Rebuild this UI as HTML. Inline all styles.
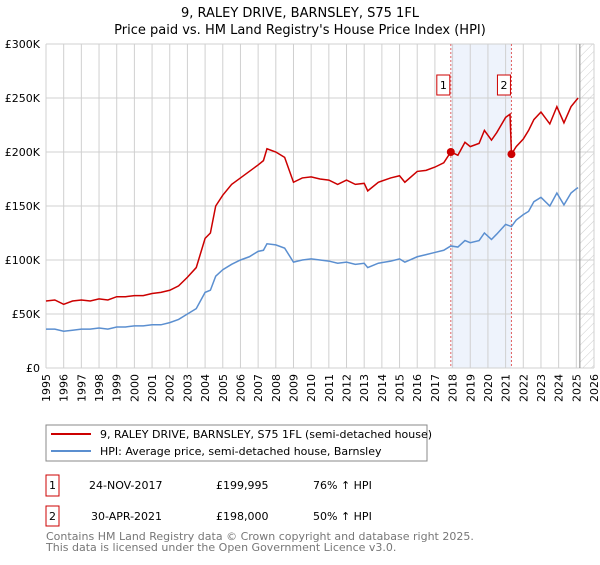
<!DOCTYPE html>
<html><head><meta charset="utf-8"><style>
body{margin:0;width:600px;height:560px;background:#fff;font-family:"Liberation Sans","DejaVu Sans",sans-serif;overflow:hidden}
svg text{font-family:"DejaVu Sans","Liberation Sans",sans-serif}
</style></head><body>
<svg id="chart" width="600" height="560">
<text x="300" y="17" text-anchor="middle" font-size="13">9, RALEY DRIVE, BARNSLEY, S75 1FL</text>
<text x="300" y="34" text-anchor="middle" font-size="13">Price paid vs. HM Land Registry's House Price Index (HPI)</text>
<g id="plot"></g>
<g>
<rect x="46" y="425" width="381" height="36" fill="#fff" stroke="#888"/>
<line x1="51" y1="434" x2="91" y2="434" stroke="#cc0000" stroke-width="2"/>
<text x="100" y="438" font-size="11">9, RALEY DRIVE, BARNSLEY, S75 1FL (semi-detached house)</text>
<line x1="51" y1="451" x2="91" y2="451" stroke="#5b8fd0" stroke-width="2"/>
<text x="100" y="455" font-size="11">HPI: Average price, semi-detached house, Barnsley</text>
</g>
<g font-size="11">
<rect x="46" y="475" width="13" height="21" fill="#fff" stroke="#cc0000"/>
<text x="52.5" y="489" text-anchor="middle">1</text>
<text x="89" y="489">24-NOV-2017</text><text x="216" y="489">£199,995</text><text x="313" y="489">76% ↑ HPI</text>
<rect x="46" y="506" width="13" height="20" fill="#fff" stroke="#cc0000"/>
<text x="52.5" y="520" text-anchor="middle">2</text>
<text x="91" y="520">30-APR-2021</text><text x="216" y="520">£198,000</text><text x="313" y="520">50% ↑ HPI</text>
</g>
<text x="46" y="540" font-size="11" fill="#777">Contains HM Land Registry data © Crown copyright and database right 2025.</text>
<text x="46" y="551" font-size="11" fill="#777">This data is licensed under the Open Government Licence v3.0.</text>
</svg>
<script>
const redYears=[1995,1995.5,1996,1996.5,1997,1997.5,1998,1998.5,1999,1999.5,2000,2000.5,2001,2001.5,2002,2002.5,2003,2003.5,2004,2004.3,2004.6,2005,2005.5,2006,2006.5,2007,2007.3,2007.5,2008,2008.5,2009,2009.5,2010,2010.5,2011,2011.5,2012,2012.5,2013,2013.2,2013.8,2014.5,2015,2015.3,2016,2016.5,2017,2017.5,2017.9,2018.3,2018.7,2019,2019.5,2019.8,2020.2,2020.5,2021,2021.25,2021.33,2021.6,2022,2022.3,2022.6,2023,2023.5,2023.9,2024.3,2024.7,2025,2025.1];
const redValues=[62,63,59,62,63,62,64,63,66,66,67,67,69,70,72,76,84,93,120,125,150,160,170,176,182,188,192,203,200,195,172,176,177,175,174,170,174,170,171,164,172,176,178,172,182,183,186,190,200,197,209,205,208,220,211,218,232,235,198,205,212,220,230,237,226,242,227,242,248,250];
const hpiYears=[1995,1995.5,1996,1996.5,1997,1997.5,1998,1998.5,1999,1999.5,2000,2000.5,2001,2001.5,2002,2002.5,2003,2003.5,2004,2004.3,2004.6,2005,2005.5,2006,2006.5,2007,2007.3,2007.5,2008,2008.5,2009,2009.5,2010,2010.5,2011,2011.5,2012,2012.5,2013,2013.2,2013.8,2014.5,2015,2015.3,2016,2016.5,2017,2017.5,2017.9,2018.3,2018.7,2019,2019.5,2019.8,2020.2,2020.5,2021,2021.33,2021.6,2022,2022.3,2022.6,2023,2023.5,2023.9,2024.3,2024.7,2025,2025.1];
const hpiValues=[36,36,34,35,36,36,37,36,38,38,39,39,40,40,42,45,50,55,70,72,85,91,96,100,103,108,109,115,114,111,98,100,101,100,99,97,98,96,97,93,97,99,101,98,103,105,107,109,113,112,118,116,118,125,119,124,133,131,137,142,145,154,158,150,162,151,162,166,167];
const saleYears=[2017.9,2021.33];
const saleValues=[199.995,198];
const saleLabels=["1","2"];
const yTicks=[0,50,100,150,200,250,300];
const yTickLabels=["£0","£50K","£100K","£150K","£200K","£250K","£300K"];
const xTicks=[1995,1996,1997,1998,1999,2000,2001,2002,2003,2004,2005,2006,2007,2008,2009,2010,2011,2012,2013,2014,2015,2016,2017,2018,2019,2020,2021,2022,2023,2024,2025,2026];

const L=46,R=594,T=44,B=368;
const x=v=>L+(v-1995)/(2026-1995)*(R-L);
const y=v=>B-v/300*(B-T);
const NS="http://www.w3.org/2000/svg";
const g=document.getElementById('plot');
function mk(tag,attrs){const e=document.createElementNS(NS,tag);for(const k in attrs)e.setAttribute(k,attrs[k]);g.appendChild(e);return e;}
let band=mk('rect',{x:x(saleYears[0]),y:T,width:x(saleYears[1])-x(saleYears[0]),height:B-T,fill:'#eef3fc'});


const defs=document.createElementNS(NS,'defs');defs.innerHTML='<pattern id="h" width="6" height="6" patternUnits="userSpaceOnUse" patternTransform="rotate(45)"><line x1="0" y1="0" x2="0" y2="6" stroke="#ccc" stroke-width="1"/></pattern>';g.appendChild(defs);
let hatch=mk('rect',{x:x(2025.2),y:T,width:R-x(2025.2),height:B-T,fill:'url(#h)'});


xTicks.forEach((t,i)=>{
 const ln=mk('line',{x1:x(t),x2:x(t),y1:T,y2:B,stroke:'#d0d0d0'});
 
 
 const tx=mk('text',{x:0,y:0,'font-size':11,'text-anchor':'end',transform:`translate(${x(t)+4},${B+6}) rotate(-90)`});
 tx.textContent=t;
 
 
});
yTicks.forEach((t,i)=>{
 const ln=mk('line',{x1:L,x2:R,y1:y(t),y2:y(t),stroke:'#d0d0d0'});
 
 
 const tx=mk('text',{x:L-6,y:y(t)+4,'font-size':11,'text-anchor':'end'});
 tx.textContent=yTickLabels[i];
 
 
});
let nowLine=mk('line',{x1:x(2025.2),x2:x(2025.2),y1:T,y2:B,stroke:'#888'});


saleYears.forEach((s,i)=>{
 const ln=mk('line',{x1:x(s),x2:x(s),y1:T,y2:B,stroke:'#e06060','stroke-dasharray':'2,2'});
 
 
 const bx=mk('rect',{x:x(s)-14,y:75,width:13,height:20,fill:'#fff',stroke:'#cc0000'});
 
 
 const tx=mk('text',{x:x(s)-7.5,y:89,'font-size':11,'text-anchor':'middle'});
 tx.textContent=saleLabels[i];
 
 
});
let hp=mk('polyline',{points:hpiYears.map((t,i)=>x(t)+','+y(hpiValues[i])).join(' '),fill:'none',stroke:'#5b8fd0','stroke-width':1.5});


let rp=mk('polyline',{points:redYears.map((t,i)=>x(t)+','+y(redValues[i])).join(' '),fill:'none',stroke:'#cc0000','stroke-width':1.5});


saleYears.forEach((s,i)=>{
 const c=mk('circle',{cx:x(s),cy:y(saleValues[i]),r:4,fill:'#cc0000'});
 
 
});
</script>
</body></html>
